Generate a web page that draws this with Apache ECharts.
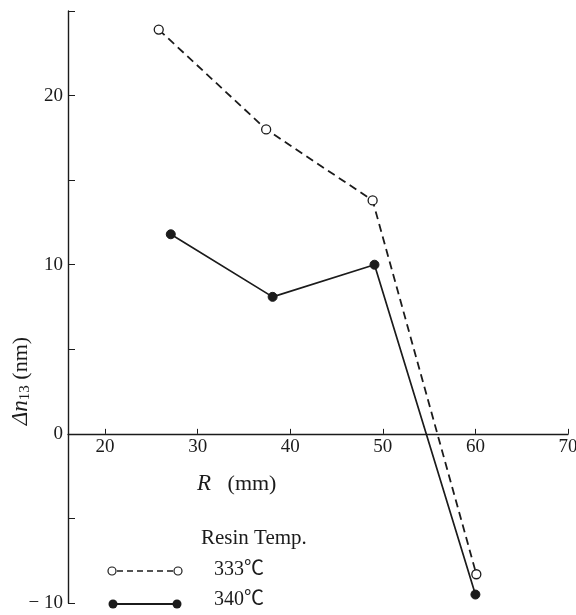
<!DOCTYPE html>
<html>
<head>
<meta charset="utf-8">
<script src="https://cdn.jsdelivr.net/npm/echarts@6/dist/echarts.min.js"></script>
<style>
  html, body { margin: 0; padding: 0; background: #fff; }
  #chart { width: 576px; height: 615px; }
</style>
</head>
<body>
<div id="chart"></div>
<script>
// Retardation Δn13 against radial position R for two resin temperatures
const radius333 = [25.8, 37.4, 48.9, 60.1];
const dn333 = [23.9, 18.0, 13.8, -8.3];
const radius340 = [27.1, 38.1, 49.1, 60.0];
const dn340 = [11.8, 8.1, 10.0, -9.5];
const xLabelled = [20, 30, 40, 50, 60, 70];
const yLabelled = [20, 10, 0, -10];
const seriesNames = ['333℃', '340℃'];
const legendTitle = 'Resin Temp.';

const ink = '#1b1b1b';
const serif = '"Liberation Serif", "Noto Sans CJK JP", serif';

const Y_MIN = -10, Y_MAX = 25;
const GRID = { left: 68, right: 8, top: 11, bottom: 12 };
const plotH = 615 - GRID.top - GRID.bottom;
// lift the horizontal axis from the bottom edge up to the zero line
const zeroLift = plotH * (0 - Y_MIN) / (Y_MAX - Y_MIN);

const chart = echarts.init(document.getElementById('chart'));

function pairs(xs, ys) {
  return xs.map((x, i) => [x, ys[i]]);
}

chart.setOption({
  backgroundColor: '#fff',
  animation: false,
  grid: Object.assign({ containLabel: false, outerBoundsMode: 'none' }, GRID),
  xAxis: {
    type: 'value',
    min: 16, max: 70,
    position: 'bottom',
    offset: -zeroLift,
    splitLine: { show: false },
    axisLine: { onZero: false, lineStyle: { color: ink, width: 1.4 } },
    axisTick: { inside: true, length: 5, lineStyle: { color: ink, width: 1 }, customValues: xLabelled },
    axisLabel: { color: ink, fontFamily: serif, fontSize: 19, margin: 4, customValues: xLabelled }
  },
  yAxis: {
    type: 'value',
    min: Y_MIN, max: Y_MAX, interval: 5,
    splitLine: { show: false },
    axisLine: { onZero: false, lineStyle: { color: ink, width: 1.4 } },
    axisTick: { inside: true, length: 7, lineStyle: { color: ink, width: 1 } },
    axisLabel: {
      color: ink, fontFamily: serif, fontSize: 19, margin: 5,
      formatter: v => yLabelled.indexOf(v) >= 0 ? String(v).replace('-', '− ') : ''
    }
  },
  series: [
    {
      name: seriesNames[0],
      type: 'line',
      data: pairs(radius333, dn333),
      symbol: 'circle', symbolSize: 9,
      itemStyle: { color: '#fff', borderColor: ink, borderWidth: 1.3 },
      lineStyle: { color: ink, width: 1.8, type: [8, 5] },
      z: 3
    },
    {
      name: seriesNames[1],
      type: 'line',
      data: pairs(radius340, dn340),
      symbol: 'circle', symbolSize: 9,
      itemStyle: { color: ink, borderColor: ink, borderWidth: 1 },
      lineStyle: { color: ink, width: 1.7 },
      z: 3
    }
  ],
  graphic: [
    // axis titles
    {
      type: 'text', x: 197, y: 484,
      style: {
        text: '{i|R}   (mm)', fill: ink, font: '22px ' + serif,
        align: 'left', verticalAlign: 'middle',
        rich: { i: { fontStyle: 'italic', fontSize: 23, fontFamily: serif, fill: ink } }
      }
    },
    {
      type: 'text', x: 21, y: 381, rotation: Math.PI / 2,
      style: {
        text: '{i|Δn}{s|13} (nm)', fill: ink, font: '22px ' + serif,
        align: 'center', verticalAlign: 'middle',
        rich: {
          i: { fontStyle: 'italic', fontSize: 23, fontFamily: serif, fill: ink },
          s: { fontSize: 15, fontFamily: serif, fill: ink, padding: [9, 0, 0, 0] }
        }
      }
    },
    // legend
    {
      type: 'text', x: 201, y: 538,
      style: { text: legendTitle, fill: ink, font: '21px ' + serif, verticalAlign: 'middle' }
    },
    {
      type: 'line', shape: { x1: 117, y1: 571, x2: 173, y2: 571 },
      style: { stroke: ink, lineWidth: 1.6, lineDash: [6, 4] }
    },
    { type: 'circle', shape: { cx: 112, cy: 571, r: 4 }, style: { fill: '#fff', stroke: ink, lineWidth: 1.2 } },
    { type: 'circle', shape: { cx: 178, cy: 571, r: 4 }, style: { fill: '#fff', stroke: ink, lineWidth: 1.2 } },
    {
      type: 'text', x: 214, y: 570,
      style: { text: seriesNames[0], fill: ink, font: '20px ' + serif, verticalAlign: 'middle' }
    },
    {
      type: 'line', shape: { x1: 113, y1: 604, x2: 177, y2: 604 },
      style: { stroke: ink, lineWidth: 1.9 }
    },
    { type: 'circle', shape: { cx: 113, cy: 604, r: 4.5 }, style: { fill: ink } },
    { type: 'circle', shape: { cx: 177, cy: 604, r: 4.5 }, style: { fill: ink } },
    {
      type: 'text', x: 214, y: 600,
      style: { text: seriesNames[1], fill: ink, font: '20px ' + serif, verticalAlign: 'middle' }
    }
  ]
});
</script>
</body>
</html>
